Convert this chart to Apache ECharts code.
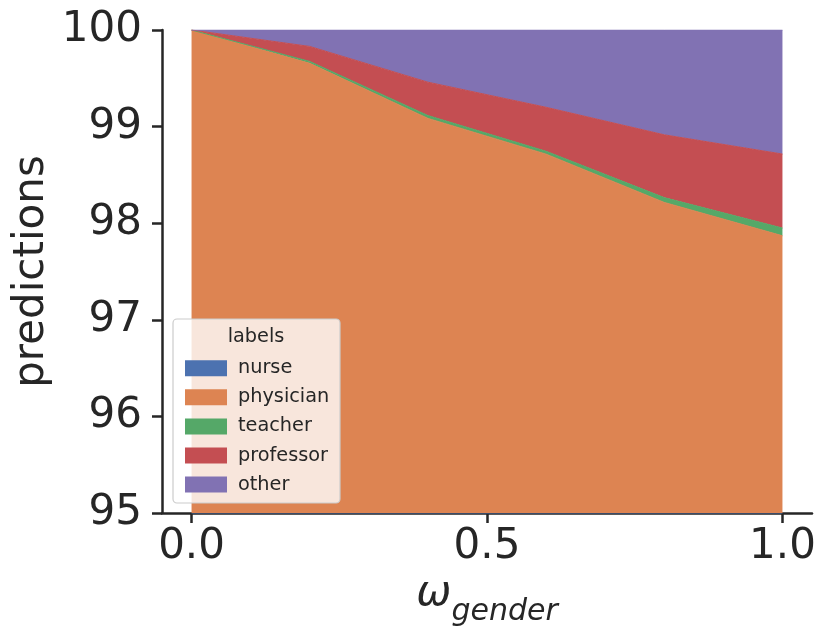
<!DOCTYPE html>
<html>
<head>
<meta charset="utf-8">
<script src="https://cdn.jsdelivr.net/npm/echarts@6/dist/echarts.min.js"></script>
<style>html,body{margin:0;padding:0;background:#fff}#c{width:830px;height:635px}</style>
</head>
<body>
<div id="c"></div>
<script>
const xValues = [0, 0.2, 0.4, 0.6, 0.8, 1.0];
const nurse = [0, 0, 0, 0, 0, 0];
const physician = [100, 99.655, 99.085, 98.715, 98.215, 97.87];
const teacher = [0, 0.02, 0.03, 0.03, 0.05, 0.08];
const professor = [0, 0.155, 0.345, 0.455, 0.65, 0.766];
const other = [0, 0.17, 0.54, 0.80, 1.085, 1.284];
const xTicks = [0, 0.5, 1.0];
const yTicks = [95, 96, 97, 98, 99, 100];

const names = ['nurse', 'physician', 'teacher', 'professor', 'other'];
const colors = ['#4c72b0', '#dd8452', '#55a868', '#c44e52', '#8172b3'];
const seriesData = [nurse, physician, teacher, professor, other];
const txt = '#262626';
const font = 'DejaVu Sans';

const chart = echarts.init(document.getElementById('c'));
chart.setOption({
  animation: false,
  textStyle: {fontFamily: font, color: txt},
  grid: {left: 162, right: 18, top: 30, bottom: 122, containLabel: false},
  xAxis: {
    type: 'value', min: -0.05, max: 1.05,
    axisLine: {show: true, onZero: false, lineStyle: {color: txt, width: 2.5}},
    axisTick: {show: true, length: 10, lineStyle: {color: txt, width: 2.5}, customValues: xTicks},
    axisLabel: {customValues: xTicks, fontSize: 42, color: txt, margin: 13, fontFamily: font,
      formatter: v => Number(v).toFixed(1)},
    splitLine: {show: false},
    name: '{w|ω}{s|gender}', nameLocation: 'middle', nameGap: 58,
    nameTextStyle: {rich: {
      w: {fontSize: 42, fontStyle: 'italic', fontFamily: font, color: txt, verticalAlign: 'bottom', lineHeight: 44},
      s: {fontSize: 30, fontStyle: 'italic', fontFamily: font, color: txt, verticalAlign: 'bottom', lineHeight: 44, padding: [0,0,-12,0]}
    }}
  },
  yAxis: {
    type: 'value', min: 95, max: 100, interval: 1,
    axisLine: {show: true, onZero: false, lineStyle: {color: txt, width: 2.5}},
    axisTick: {show: true, length: 10, lineStyle: {color: txt, width: 2.5}},
    axisLabel: {fontSize: 42, color: txt, margin: 20, fontFamily: font,
      customValues: yTicks},
    splitLine: {show: false},
    name: 'predictions', nameLocation: 'middle', nameGap: 109, nameRotate: 90,
    nameMoveOverlap: false,
    nameTextStyle: {fontSize: 42, color: txt, fontFamily: font}
  },
  legend: {
    orient: 'vertical', left: 180, top: 353.7, z: 20,
    itemWidth: 42, itemHeight: 16, itemGap: 10.1,
    icon: 'rect',
    textStyle: {fontSize: 19.3, color: txt, fontFamily: font, padding: [0, 0, 0, 6]},
    data: names
  },
  graphic: [
    {type: 'rect', z: 10, shape: {x: 173, y: 319, width: 167, height: 184, r: 4},
      style: {fill: 'rgba(255,255,255,0.8)', stroke: '#cccccc', lineWidth: 1.2}},
    {type: 'text', z: 11, x: 256, y: 337,
      style: {text: 'labels', fontSize: 19.3, fill: txt, fontFamily: font, align: 'center', verticalAlign: 'middle'}}
  ],
  series: names.map((n, i) => ({
    name: n, type: 'line', stack: 'total', symbol: 'none',
    color: colors[i],
    lineStyle: {width: 1, color: colors[i]},
    areaStyle: {color: colors[i], opacity: 1},
    clip: true,
    encode: {x: 1, y: 0},
    data: xValues.map((x, j) => [seriesData[i][j], x])
  }))
});
</script>
</body>
</html>
